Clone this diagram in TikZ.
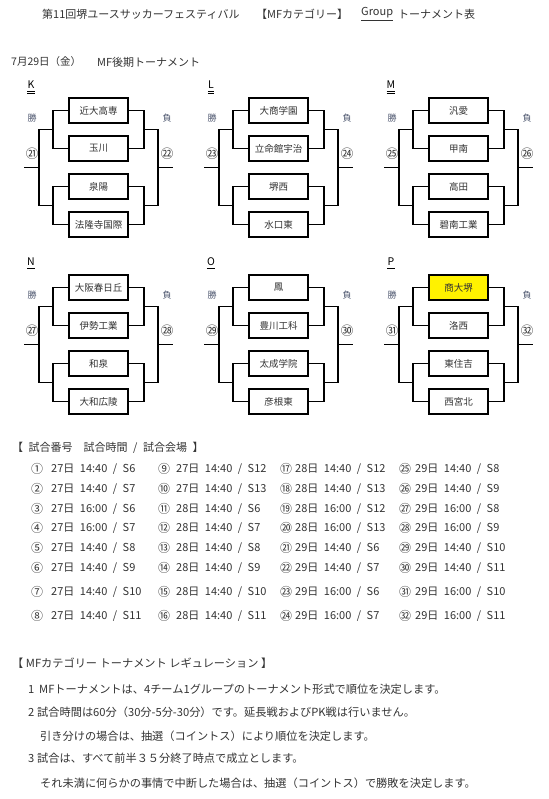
\documentclass[tikz,border=0pt]{standalone}
\usepackage{fontspec}
\setmainfont{Noto Sans CJK JP}
\usepackage{tikz}
\usetikzlibrary{positioning, calc}
\definecolor{textgray}{HTML}{333333}
\definecolor{labelgray}{HTML}{4F5870}
\newcommand\widesp{\spaceskip=0.5em\relax}
\tikzset{
  team_box/.style={rectangle, draw=black, line width=1.8pt, minimum width=59pt, minimum height=25pt, inner sep=0pt, font=\fontsize{9.5}{11}\selectfont, text=textgray},
  bracket_line/.style={-, line width=1.8pt, black},
  group_label/.style={inner sep=0pt, font=\fontsize{10.5}{12}\selectfont, text=black},
  wl_label/.style={inner sep=0pt, font=\fontsize{9}{11}\selectfont, text=labelgray},
  match_no/.style={inner sep=0pt, font=\fontsize{12.5}{14}\selectfont, text=textgray},
  title_text/.style={inner sep=0pt, anchor=west, font=\fontsize{11}{13}\selectfont, text=textgray},
  sched_text/.style={inner sep=0pt, anchor=west, font=\fontsize{11}{13}\selectfont, text=textgray},
  reg_text/.style={inner sep=0pt, anchor=west, font=\fontsize{11.2}{13}\selectfont, text=textgray}
}

\begin{document}
\begin{tikzpicture}[x=1pt, y=-1pt]

  % Page frame
  \fill[white] (0,0) rectangle (548,799);
  \useasboundingbox (0,0) rectangle (548,799);

  % Title
  \node[title_text] (title) at (42,14) {第11回堺ユースサッカーフェスティバル};
  \node[title_text] (category) at (256,14) {【MFカテゴリー】};
  \node[title_text] (group) at (361,14) {\underline{Group}};
  \node[title_text] (kind) at (398,14) {トーナメント表};

  \node[title_text, font=\fontsize{10.5}{12}\selectfont] (date) at (11,62) {7月29日（金）};
  \node[title_text] (stage) at (97,62) {MF後期トーナメント};

  % Brackets
  \foreach \g/\ox/\oy/\ul/\w/\l/\fa/\ta/\tb/\tc/\td in {
      K/0/0/2/㉑/㉒/white/近大高専/玉川/泉陽/法隆寺国際,
      L/180/0/2/㉓/㉔/white/大商学園/立命館宇治/堺西/水口東,
      M/360/0/2/㉕/㉖/white/汎愛/甲南/高田/碧南工業,
      N/0/177/1/㉗/㉘/white/大阪春日丘/伊勢工業/和泉/大和広陵,
      O/180/177/1/㉙/㉚/white/鳳/豊川工科/太成学院/彦根東,
      P/360/177/1/㉛/㉜/yellow/商大堺/洛西/東住吉/西宮北}{
    \begin{scope}[shift={(\ox,\oy)}]
      \node[group_label] (\g-name) at (31,85) {\g};
      \draw[black, line width=0.8pt] ([yshift=-2pt]\g-name.south west) -- ([yshift=-2pt]\g-name.south east);
      \ifnum\ul=2
        \draw[black, line width=0.8pt] ([yshift=-4.2pt]\g-name.south west) -- ([yshift=-4.2pt]\g-name.south east);
      \fi

      \node[team_box, fill=\fa] (\g-1) at (98.5,110.5) {\ta};
      \node[team_box] (\g-2) at (98.5,148.5) {\tb};
      \node[team_box] (\g-3) at (98.5,186.5) {\tc};
      \node[team_box] (\g-4) at (98.5,224.5) {\td};

      \coordinate (\g-la) at (53,129.5);
      \coordinate (\g-lb) at (53,205.5);
      \coordinate (\g-lm) at (39,167.5);
      \coordinate (\g-lw) at (24,167.5);
      \coordinate (\g-ra) at (144,129.5);
      \coordinate (\g-rb) at (144,205.5);
      \coordinate (\g-rm) at (158,167.5);
      \coordinate (\g-re) at (173,167.5);

      % winners side
      \draw[bracket_line] (\g-1.west) -| (\g-la) |- (\g-2.west);
      \draw[bracket_line] (\g-3.west) -| (\g-lb) |- (\g-4.west);
      \draw[bracket_line] (\g-la) -| (\g-lm) |- (\g-lb);
      \draw[bracket_line] (\g-lm) -- (\g-lw);
      % losers side
      \draw[bracket_line] (\g-1.east) -| (\g-ra) |- (\g-2.east);
      \draw[bracket_line] (\g-3.east) -| (\g-rb) |- (\g-4.east);
      \draw[bracket_line] (\g-ra) -| (\g-rm) |- (\g-rb);
      \draw[bracket_line] (\g-rm) -- (\g-re);

      \node[wl_label] (\g-win) at (32,118) {勝};
      \node[match_no] (\g-wno) at (32,154) {\w};
      \node[wl_label] (\g-lose) at (167,118) {負};
      \node[match_no] (\g-lno) at (167,154) {\l};
    \end{scope}
  }

  % Match schedule
  \node[sched_text] (sched-head) at (12,448) {\widesp 【 試合番号　試合時間 / 試合会場 】};
  \foreach \t [count=\k from 0] in {
      {27日 14:40 / S6}, {27日 14:40 / S7}, {27日 16:00 / S6}, {27日 16:00 / S7},
      {27日 14:40 / S8}, {27日 14:40 / S9}, {27日 14:40 / S10}, {27日 14:40 / S11},
      {27日 14:40 / S12}, {27日 14:40 / S13}, {28日 14:40 / S6}, {28日 14:40 / S7},
      {28日 14:40 / S8}, {28日 14:40 / S9}, {28日 14:40 / S10}, {28日 14:40 / S11},
      {28日 14:40 / S12}, {28日 14:40 / S13}, {28日 16:00 / S12}, {28日 16:00 / S13},
      {29日 14:40 / S6}, {29日 14:40 / S7}, {29日 16:00 / S6}, {29日 16:00 / S7},
      {29日 14:40 / S8}, {29日 14:40 / S9}, {29日 16:00 / S8}, {29日 16:00 / S9},
      {29日 14:40 / S10}, {29日 14:40 / S11}, {29日 16:00 / S10}, {29日 16:00 / S11}}{
    \pgfmathtruncatemacro\col{int(\k/8)}
    \pgfmathtruncatemacro\row{mod(\k,8)}
    \pgfmathtruncatemacro\code{\k<20 ? 9312+\k : 12881+\k-20}
    \pgfmathsetmacro\ry{{469,489,509,528,548,568,592,616}[\row]}
    \pgfmathsetmacro\cx{{31,158,280,399}[\col]}
    \pgfmathsetmacro\tx{{51,176,295,415}[\col]}
    \node[match_no, anchor=west, font=\fontsize{12}{14}\selectfont] (no-\k) at (\cx,\ry) {\char\code};
    \node[sched_text] (match-\k) at (\tx,\ry) {\widesp\t};
  }

  % Regulation
  \node[reg_text] (reg-head) at (12,663) {【 MFカテゴリー トーナメント レギュレーション 】};
  \node[reg_text] (reg-n1) at (28,689) {1};
  \node[reg_text] (reg-1) at (39,689) {MFトーナメントは、4チーム1グループのトーナメント形式で順位を決定します。};
  \node[reg_text] (reg-n2) at (28,712) {2};
  \node[reg_text] (reg-2) at (37,712) {試合時間は60分（30分-5分-30分）です。延長戦およびPK戦は行いません。};
  \node[reg_text] (reg-2b) at (40,736) {引き分けの場合は、抽選（コイントス）により順位を決定します。};
  \node[reg_text] (reg-n3) at (28,758) {3};
  \node[reg_text] (reg-3) at (37,758) {試合は、すべて前半３５分終了時点で成立とします。};
  \node[reg_text] (reg-3b) at (40,783) {それ未満に何らかの事情で中断した場合は、抽選（コイントス）で勝敗を決定します。};

\end{tikzpicture}
\end{document}
